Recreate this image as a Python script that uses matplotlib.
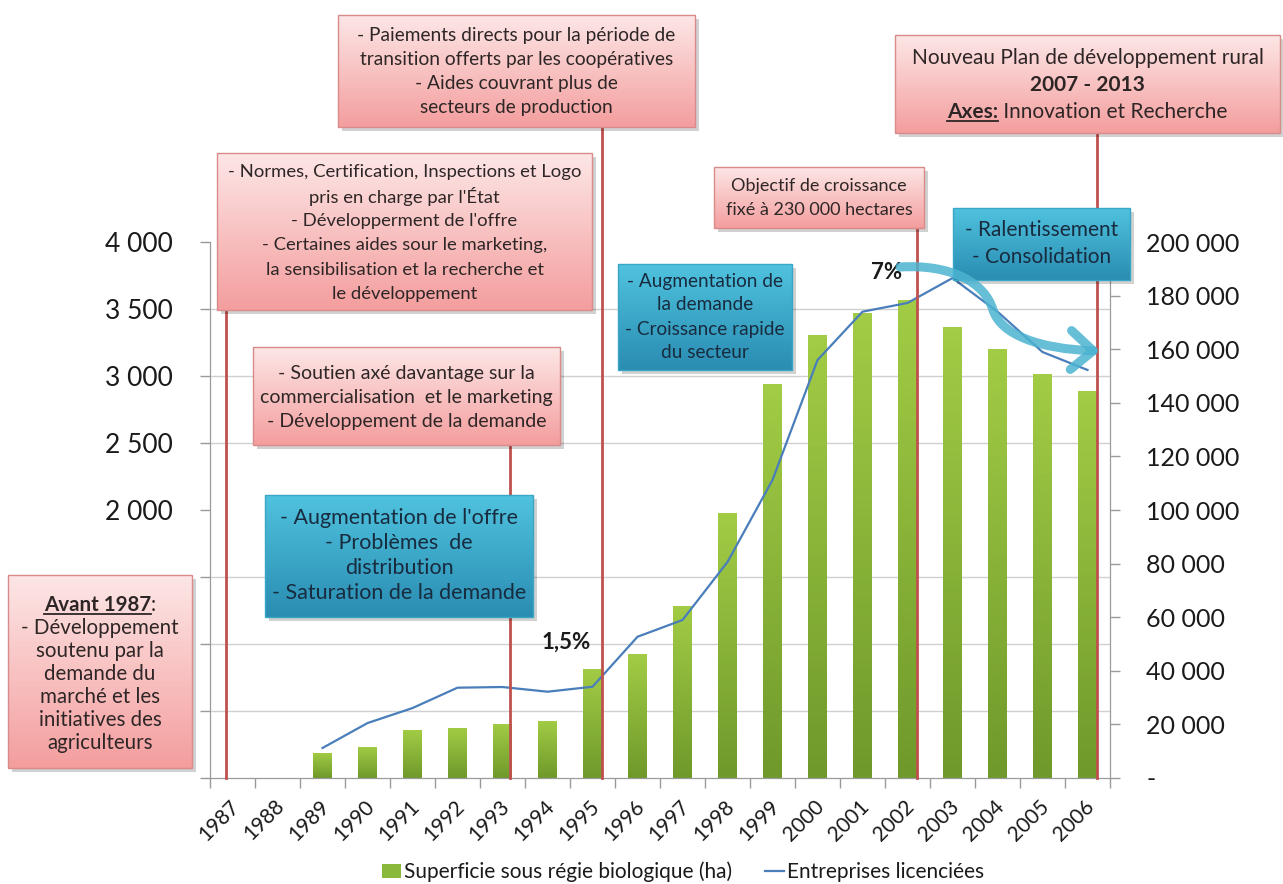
import numpy as np
import matplotlib
matplotlib.use("Agg")
import matplotlib.pyplot as plt
import matplotlib.transforms as mtransforms
from matplotlib.colors import LinearSegmentedColormap
from matplotlib.patches import Rectangle, FancyArrowPatch
from matplotlib.path import Path
from matplotlib.ticker import FuncFormatter, MultipleLocator

plt.rcParams['font.family'] = ['Lato', 'DejaVu Sans']

years = [str(y) for y in range(1987, 2007)]
# hectares under organic management (right axis)
superficie = [0, 0, 9400, 11600, 17900, 18800, 20200, 21300, 40700, 46200,
              64200, 99000, 146900, 165200, 173600, 178400, 168400, 160200,
              150900, 144400]
# licensed farms (left axis)
entreprises = [np.nan, np.nan, 224, 410, 522, 674, 679, 644, 681, 1054,
               1179, 1612, 2224, 3119, 3480, 3545, 3731, 3480, 3179, 3045]
share_labels = {"1995": "1,5%", "2002": "7%"}

W, H = 1283, 884
fig = plt.figure(figsize=(W / 100, H / 100), dpi=100)
fig.patch.set_facecolor("white")

# bars own the right axis, the line sits on top with the left axis
ax = fig.add_axes([210 / W, 1 - 778 / H, 900 / W, 536 / H])
ax2 = ax.twinx()
x = np.arange(len(years))

ax.set_xlim(-0.5, len(years) - 0.5)
ax.set_ylim(0, 200000)
ax2.set_ylim(0, 4000)

bar_cmap = LinearSegmentedColormap.from_list("g", ["#a2cc45", "#6f9a2b"])
bars = ax.bar(x, superficie, width=0.42, color="#8ab83a", zorder=2,
              label="Superficie sous régie biologique (ha)")
grad = np.linspace(0, 1, 64).reshape(-1, 1)
for b in bars:
    if b.get_height() <= 0:
        continue
    b.set_facecolor("none")
    im = ax.imshow(grad, cmap=bar_cmap, aspect="auto", origin="upper",
                   extent=(b.get_x(), b.get_x() + b.get_width(), 0, b.get_height()),
                   zorder=2)
    im.set_clip_path(b)
ax.set_xlim(-0.5, len(years) - 0.5)
ax.set_ylim(0, 200000)

line, = ax2.plot(x, entreprises, color="#4a7ebb", lw=1.6, zorder=3,
                 label="Entreprises licenciées")

# grid follows the left axis steps (500 = 25 000 ha)
ax.set_yticks(np.arange(0, 200001, 25000), minor=True)
ax.grid(which="minor", axis="y", color="#d0d0d0", lw=1, zorder=0)
ax.tick_params(axis="y", which="minor", length=0)

ax.yaxis.tick_right()
ax.yaxis.set_major_locator(MultipleLocator(20000))
ax.yaxis.set_major_formatter(FuncFormatter(
    lambda v, p: "-" if v == 0 else f"{v:,.0f}".replace(",", " ")))
ax.tick_params(axis="y", which="major", labelsize=18, length=7, pad=19,
               color="#9a9a9a", labelcolor="#1a1a1a", width=1)

# lower left labels sit under the "Avant 1987" note
ax2.yaxis.tick_left()
ax2.yaxis.set_major_locator(MultipleLocator(500))
ax2.yaxis.set_major_formatter(FuncFormatter(
    lambda v, p: "" if v < 2000 else f"{v:,.0f}".replace(",", " ")))
ax2.tick_params(axis="y", labelsize=19, length=7, pad=20,
                color="#9a9a9a", labelcolor="#1a1a1a", width=1)

ax.set_xticks(np.arange(-0.5, len(years), 1))
ax.set_xticklabels([])
ax.tick_params(axis="x", length=7, color="#9a9a9a", width=1)
ax.set_xticks(x, minor=True)
ax.set_xticklabels(years, minor=True, rotation=45, ha="right", fontsize=15,
                   color="#1a1a1a")
ax.tick_params(axis="x", which="minor", length=0, pad=13)
shift = mtransforms.ScaledTranslation(11 / 100, 0, fig.dpi_scale_trans)
for lab in ax.get_xticklabels(minor=True):
    lab.set_transform(lab.get_transform() + shift)

for a in (ax, ax2):
    a.spines["top"].set_visible(False)
    a.spines["left"].set_color("#9a9a9a")
    a.spines["right"].set_color("#9a9a9a")
    a.spines["bottom"].set_color("#9a9a9a")
    a.patch.set_visible(False)

for yr, txt in share_labels.items():
    i = years.index(yr)
    ax.annotate(txt, (i, superficie[i]), xytext=(-19 if yr == "1995" else -15, 12),
                textcoords="offset points", ha="center", va="bottom",
                fontsize=16, fontweight="bold", color="#1a1a1a", zorder=5)

fig.legend([bars, line], [bars.get_label(), line.get_label()],
           loc="center", bbox_to_anchor=(683 / W, 1 - 872 / H), ncol=2,
           frameon=False, fontsize=15, handlelength=0.9, handletextpad=0.15,
           columnspacing=1.6, labelcolor="#1a1a1a")

# annotation layer in pixel coordinates
ov = fig.add_axes([0, 0, 1, 1], zorder=10)
ov.set_xlim(0, W)
ov.set_ylim(H, 0)
ov.axis("off")
ov.patch.set_visible(False)

pink = LinearSegmentedColormap.from_list("p", ["#fde6e6", "#f49e9e"])
blue = LinearSegmentedColormap.from_list("b", ["#4fc2de", "#2a8db2"])


def box(x0, y0, x1, y1, cmap, edge):
    ov.add_patch(Rectangle((x0 + 4, y0 + 4), x1 - x0, y1 - y0, color="#000000",
                           alpha=0.18, lw=0, zorder=1))
    ov.imshow(grad, cmap=cmap, aspect="auto", origin="upper",
              extent=(x0, x1, y1, y0), zorder=2)
    ov.add_patch(Rectangle((x0, y0), x1 - x0, y1 - y0, fill=False, ec=edge,
                           lw=1, zorder=3))


renderer = fig.canvas.get_renderer()


def rich_line(xc, y, pieces, size, color):
    texts = []
    for s, st in pieces:
        t = ov.text(0, y, s, fontsize=size, color=color, va="center", ha="left",
                    fontweight="bold" if "b" in st else "normal", zorder=4)
        texts.append((t, st))
    widths = [t.get_window_extent(renderer).width for t, _ in texts]
    cur = xc - sum(widths) / 2
    for (t, st), w in zip(texts, widths):
        t.set_x(cur)
        if "u" in st:
            ov.plot([cur, cur + w], [y + size * 0.62, y + size * 0.62],
                    color=color, lw=1.3, zorder=4)
        cur += w


N, B, U = "", "b", "bu"
boxes = [
    ((8, 575, 192, 768), pink, 605, 23.0, 14.8, "#2e2626",
     [[("Avant 1987", U), (":", N)], [("- Développement", N)],
      [("soutenu par la", N)], [("demande du", N)], [("marché et les", N)],
      [("initiatives des", N)], [("agriculteurs", N)]]),
    ((217, 153, 592, 310), pink, 172, 24.4, 13.3, "#2e2626",
     [[("- Normes, Certification, Inspections et Logo", N)],
      [("pris en charge par l'État", N)], [("- Développerment de l'offre", N)],
      [("- Certaines aides sour le marketing,", N)],
      [("la sensibilisation et la recherche et", N)],
      [("le développement", N)]]),
    ((253, 347, 560, 445), pink, 373, 24.5, 14, "#2e2626",
     [[("- Soutien axé davantage sur la", N)],
      [("commercialisation  et le marketing", N)],
      [("- Développement de la demande", N)]]),
    ((338, 15, 695, 127), pink, 35, 24, 13.8, "#2e2626",
     [[("- Paiements directs pour la période de", N)],
      [("transition offerts par les coopératives", N)],
      [("- Aides couvrant plus de", N)], [("secteurs de production", N)]]),
    ((714, 167, 924, 228), pink, 186, 24, 13, "#2e2626",
     [[("Objectif de croissance", N)], [("fixé à 230 000 hectares", N)]]),
    ((895, 35, 1280, 133), pink, 58, 27, 15, "#2e2626",
     [[("Nouveau Plan de développement rural", N)], [("2007 - 2013", B)],
      [("Axes:", U), (" Innovation et Recherche", N)]]),
    ((265, 495, 533, 617), blue, 518, 25, 15.5, "#182b3f",
     [[("- Augmentation de l'offre", N)], [("- Problèmes  de", N)],
      [("distribution", N)], [("- Saturation de la demande", N)]]),
    ((618, 264, 792, 370), blue, 281, 24, 13.7, "#182b3f",
     [[("- Augmentation de", N)], [("la demande", N)],
      [("- Croissance rapide", N)], [("du secteur", N)]]),
    ((953, 208, 1130, 280), blue, 230, 27, 15, "#182b3f",
     [[("- Ralentissement", N)], [("- Consolidation", N)]]),
]

# red markers run from a box down to the category axis
events = [(-0.15, 310), (6.17, 445), (8.2, 127), (15.2, 228), (19.2, 133)]
axis_bottom = H - ax.transAxes.transform((0, 0))[1]
for xe, ytop in events:
    xp = ax.transData.transform((xe, 0))[0]
    ov.plot([xp, xp], [ytop, axis_bottom], color="#c0504d", lw=2, zorder=0.5)

for (x0, y0, x1, y1), cmap, first, sp, size, col, lines in boxes:
    edge = "#d98a8a" if cmap is pink else "#3aa6c6"
    box(x0, y0, x1, y1, cmap, edge)
    for k, pieces in enumerate(lines):
        rich_line((x0 + x1) / 2, first + k * sp, pieces, size, col)

# slowdown arrow over the 2003 peak
verts = [(900, 267), (950, 264), (985, 282), (993, 310),
         (1001, 335), (1040, 349), (1100, 351)]
codes = [Path.MOVETO, Path.CURVE4, Path.CURVE4, Path.CURVE4,
         Path.CURVE4, Path.CURVE4, Path.CURVE4]
ov.add_patch(FancyArrowPatch(path=Path(verts, codes),
                             arrowstyle="->,head_length=0.8,head_width=0.7",
                             mutation_scale=20, color="#4bb3d0", lw=6.5, alpha=0.85,
                             zorder=5, capstyle="round", joinstyle="round"))
ov.set_xlim(0, W)
ov.set_ylim(H, 0)

fig.savefig("out.png", dpi=100)
